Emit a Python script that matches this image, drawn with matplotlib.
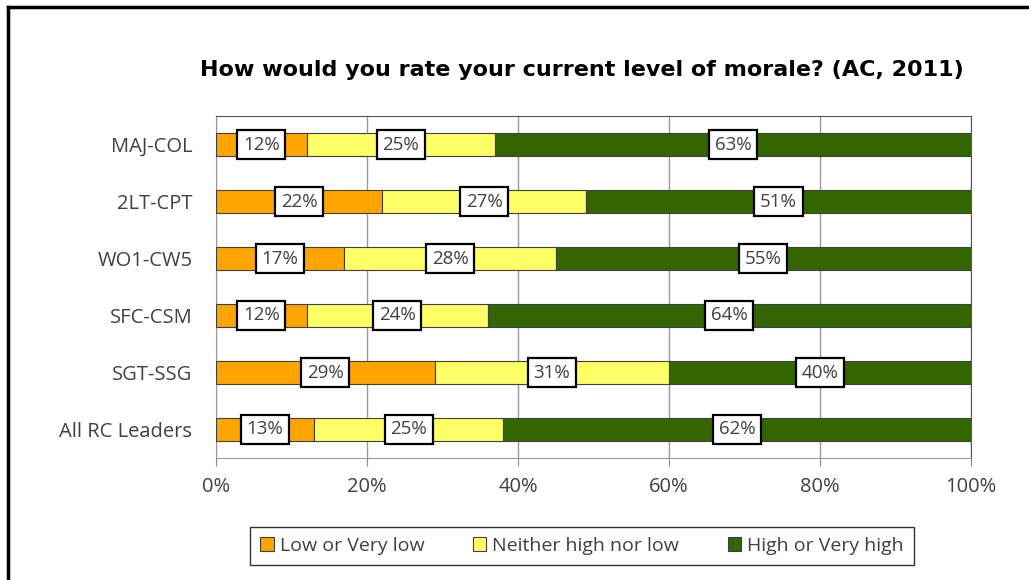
import matplotlib
matplotlib.use("Agg")
import matplotlib.pyplot as plt
from matplotlib.lines import Line2D
import numpy as np

categories = ["MAJ-COL", "2LT-CPT", "WO1-CW5", "SFC-CSM", "SGT-SSG", "All RC Leaders"]
low = [12, 22, 17, 12, 29, 13]
neither = [25, 27, 28, 24, 31, 25]
high = [63, 51, 55, 64, 40, 62]
series_names = ["Low or Very low", "Neither high nor low", "High or Very high"]
colors = ["#FFA500", "#FFFF66", "#336600"]
xticks = [0, 20, 40, 60, 80, 100]
title = "How would you rate your current level of morale? (AC, 2011)"

plt.rcParams['font.family'] = ['Open Sans', 'DejaVu Sans']
fig = plt.figure(figsize=(10.29, 5.8), dpi=100)
ax = fig.add_axes([216/1029, 1-458/580, (971-216)/1029, (458-116)/580])

y = np.arange(len(categories))
left = np.zeros(len(categories))
for vals, name, col in zip([low, neither, high], series_names, colors):
    vals = np.array(vals, dtype=float)
    ax.barh(y, vals, left=left, height=0.42, color=col, edgecolor="#404040",
            linewidth=0.8, label=name, zorder=3)
    for yi, l, v in zip(y, left, vals):
        ax.text(l + v/2, yi, f"{int(v)}%", ha="center", va="center", fontsize=13.5,
                color="#404040", zorder=5,
                bbox=dict(boxstyle="square,pad=0.3", fc="white", ec="black", lw=1.6))
    left += vals

ax.set_xlim(0, 100)
ax.set_ylim(len(categories) - 0.5, -0.5)
ax.set_yticks(y)
ax.set_yticklabels(categories, fontsize=14.5, color="#404040")
ax.set_xticks(xticks)
ax.set_xticklabels([f"{t}%" for t in xticks], fontsize=14.5, color="#404040")
ax.tick_params(axis="y", length=0, pad=17)
ax.tick_params(axis="x", length=6, color="#888888", pad=8, direction="out")
ax.xaxis.grid(True, color="#999999", linewidth=1, zorder=0)
for s in ["top", "right"]:
    ax.spines[s].set_color("#555555")
for s in ["left", "bottom"]:
    ax.spines[s].set_color("#999999")

fig.text(582/1029, 1-70/580, title, ha="center", va="center", fontsize=16,
         fontweight="bold", family=["DejaVu Sans"], color="black")

leg = ax.legend(loc="center", bbox_to_anchor=(582/1029, 1-546/580),
                bbox_transform=fig.transFigure, ncol=3, frameon=True, fancybox=False,
                edgecolor="black", fontsize=14, handlelength=0.7, handleheight=0.75,
                handletextpad=0.3, columnspacing=2.5, borderpad=0.5, borderaxespad=0)
leg.get_frame().set_linewidth(1.0)
for t in leg.get_texts():
    t.set_color("#404040")

# outer frame (left and top)
fig.add_artist(Line2D([8/1029, 8/1029], [0, 1-7/580], transform=fig.transFigure,
                      color="black", lw=2.5))
fig.add_artist(Line2D([8/1029, 1], [1-7/580, 1-7/580], transform=fig.transFigure,
                      color="black", lw=2.5))

fig.savefig("out.png", dpi=100)
